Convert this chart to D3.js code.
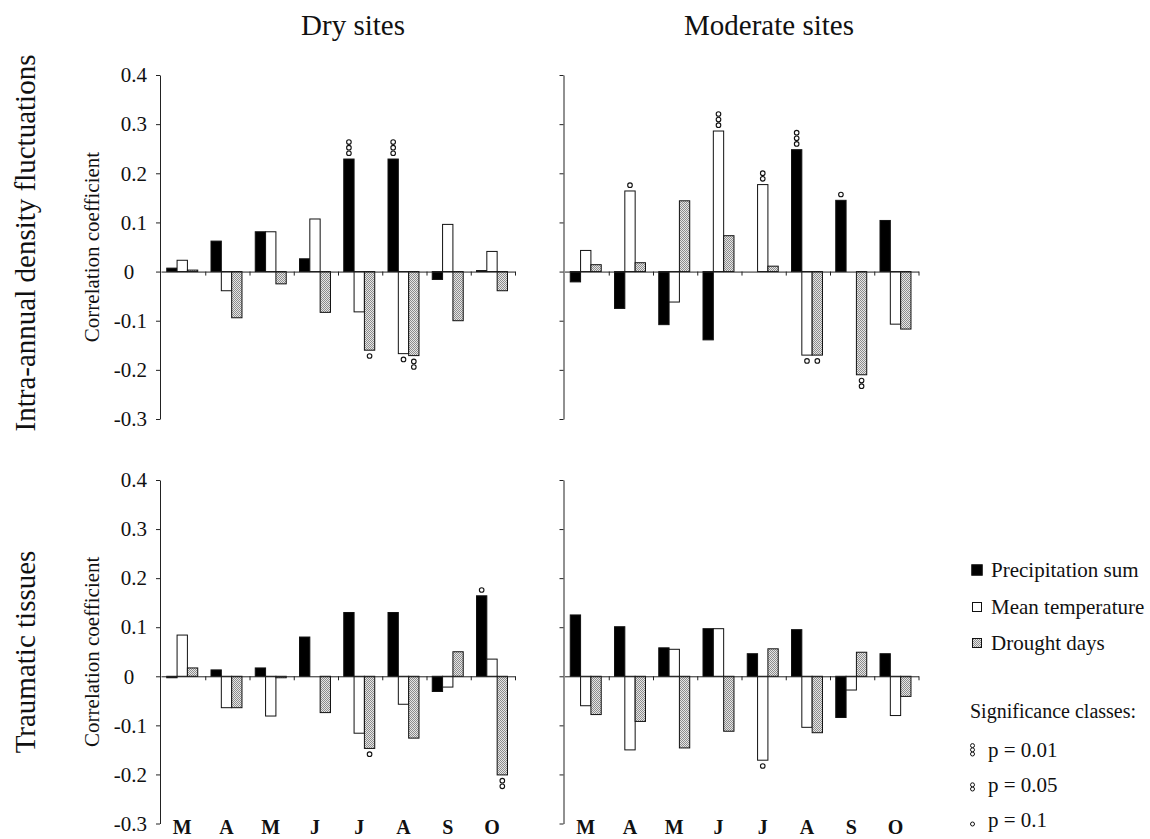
<!DOCTYPE html>
<html>
<head>
<meta charset="utf-8">
<script src="https://cdn.jsdelivr.net/npm/d3@7"></script>
<style>
body { margin: 0; background: #fff; }
text { font-family: "Liberation Serif", "Times New Roman", "DejaVu Serif", serif; }
</style>
</head>
<body>
<svg id="chart" width="1150" height="839"></svg>
<script>
// months and series
const monthKeys = ['Mar', 'Apr', 'May', 'Jun', 'Jul', 'Aug', 'Sep', 'Oct'];
const monthLabels = ['M', 'A', 'M', 'J', 'J', 'A', 'S', 'O'];
const seriesNames = ['Precipitation sum', 'Mean temperature', 'Drought days'];
const yTicks = [-0.3, -0.2, -0.1, 0, 0.1, 0.2, 0.3, 0.4];

// intra-annual density fluctuations, dry sites
const dryIadfPrec = [0.007, 0.062, 0.081, 0.026, 0.229, 0.229, -0.016, 0.002];
const dryIadfTemp = [0.023, -0.039, 0.081, 0.107, -0.082, -0.167, 0.096, 0.041];
const dryIadfDrought = [0.003, -0.094, -0.025, -0.083, -0.160, -0.171, -0.100, -0.039];
// intra-annual density fluctuations, moderate sites
const modIadfPrec = [-0.021, -0.075, -0.108, -0.139, 0, 0.248, 0.145, 0.104];
const modIadfTemp = [0.043, 0.164, -0.062, 0.286, 0.177, -0.170, 0, -0.107];
const modIadfDrought = [0.014, 0.018, 0.144, 0.073, 0.011, -0.170, -0.210, -0.117];
// traumatic tissues, dry sites
const dryTraumPrec = [-0.003, 0.013, 0.017, 0.080, 0.130, 0.130, -0.031, 0.164];
const dryTraumTemp = [0.084, -0.064, -0.081, 0, -0.116, -0.057, -0.022, 0.035];
const dryTraumDrought = [0.017, -0.064, -0.003, -0.074, -0.147, -0.126, 0.050, -0.201];
// traumatic tissues, moderate sites
const modTraumPrec = [0.125, 0.101, 0.058, 0.097, 0.046, 0.095, -0.084, 0.046];
const modTraumTemp = [-0.060, -0.150, 0.055, 0.097, -0.171, -0.104, -0.028, -0.080];
const modTraumDrought = [-0.078, -0.092, -0.146, -0.112, 0.056, -0.115, 0.049, -0.041];

// significance marks: month index, series index, number of circles
const dryIadfSig = [[4, 0, 3], [4, 2, 1], [5, 0, 3], [5, 1, 1], [5, 2, 2]];
const modIadfSig = [[1, 1, 1], [3, 1, 3], [4, 1, 2], [5, 0, 3], [5, 1, 1], [5, 2, 1], [6, 0, 1], [6, 2, 2]];
const dryTraumSig = [[4, 2, 1], [7, 0, 1], [7, 2, 2]];
const modTraumSig = [[4, 1, 1]];

const sigLabels = ['p = 0.01', 'p = 0.05', 'p = 0.1'];
const sigCounts = [3, 2, 1];

const svg = d3.select('#chart');
const fills = ['#000', '#fff', 'url(#stipple)'];

// stipple pattern for drought days
const pat = svg.append('defs').append('pattern')
    .attr('id', 'stipple')
    .attr('width', 2).attr('height', 2)
    .attr('patternUnits', 'userSpaceOnUse');
pat.append('rect').attr('width', 2).attr('height', 2).attr('fill', '#e6e6e6');
pat.append('rect').attr('width', 1).attr('height', 1).attr('fill', '#8c8c8c');
pat.append('rect').attr('x', 1).attr('y', 1).attr('width', 1).attr('height', 1).attr('fill', '#8c8c8c');

const colX = [160, 563.5];
const rowTop = [75, 480];
const rowBottom = [419, 823.5];
const plotW = 355;

const panels = [
    {col: 0, row: 0, values: [dryIadfPrec, dryIadfTemp, dryIadfDrought], sig: dryIadfSig},
    {col: 1, row: 0, values: [modIadfPrec, modIadfTemp, modIadfDrought], sig: modIadfSig},
    {col: 0, row: 1, values: [dryTraumPrec, dryTraumTemp, dryTraumDrought], sig: dryTraumSig},
    {col: 1, row: 1, values: [modTraumPrec, modTraumTemp, modTraumDrought], sig: modTraumSig}
];

// plain hyphen as minus sign, like the original
function tickFmt(d) {
    return d === 0 ? '0' : d.toFixed(1);
}

function drawPanel(p) {
    let g = svg.append('g');
    let x0 = d3.scaleBand()
        .domain(monthKeys)
        .range([colX[p.col] + 1, colX[p.col] + plotW]);
    let bw = x0.bandwidth();
    let x1 = d3.scaleBand()
        .domain(seriesNames)
        .range([bw * 0.13, bw * 0.83]);
    let y = d3.scaleLinear()
        .domain([-0.3, 0.4])
        .range([rowBottom[p.row], rowTop[p.row]]);

    // bars
    seriesNames.forEach(function (s, si) {
        g.selectAll(null)
            .data(p.values[si])
            .enter()
            .append('rect')
            .attr('x', function (d, i) { return x0(monthKeys[i]) + x1(s); })
            .attr('y', function (d) { return y(Math.max(0, d)); })
            .attr('width', x1.bandwidth())
            .attr('height', function (d) { return Math.abs(y(d) - y(0)); })
            .attr('fill', fills[si])
            .attr('stroke', '#111')
            .attr('stroke-width', 1);
    });

    // x axis on the zero line, ticks between months
    let xl = d3.scaleLinear().domain([0, 8]).range(x0.range());
    g.append('g')
        .attr('transform', `translate(0,${y(0)})`)
        .call(d3.axisBottom(xl).tickValues(d3.range(1, 9)).tickSize(4).tickSizeOuter(0).tickFormat(''));

    // y axis
    let ya = g.append('g')
        .attr('transform', `translate(${colX[p.col]},0)`)
        .call(d3.axisLeft(y).tickValues(yTicks).tickSize(4).tickSizeOuter(0).tickPadding(9)
            .tickFormat(p.col === 0 ? tickFmt : ''));
    ya.selectAll('text')
        .attr('font-family', '"Liberation Serif", serif')
        .attr('font-size', 21)
        .attr('fill', '#111');
    ya.selectAll('.tick text')
        .filter(function (d) { return d === 0; })
        .attr('text-anchor', 'middle')
        .attr('x', -31);
    g.selectAll('.domain, .tick line').attr('stroke', '#222');

    // significance circles
    g.selectAll(null)
        .data(p.sig)
        .enter()
        .each(function (s) {
            let v = p.values[s[1]][s[0]];
            let cx = x0(monthKeys[s[0]]) + x1(seriesNames[s[1]]) + x1.bandwidth() / 2;
            for (let k = 0; k < s[2]; k++) {
                let cy = v >= 0 ? y(v) - 5.8 - k * 5.6 : y(v) + 5.8 + k * 5.6;
                g.append('circle')
                    .attr('cx', cx).attr('cy', cy).attr('r', 2.3)
                    .attr('fill', '#fff').attr('stroke', '#111').attr('stroke-width', 1.1);
            }
        });

    // month labels under the lower panels
    if (p.row === 1) {
        g.selectAll(null)
            .data(monthLabels)
            .enter()
            .append('text')
            .attr('x', function (d, i) { return x0(monthKeys[i]) + bw * 0.48; })
            .attr('y', 834)
            .attr('text-anchor', 'middle')
            .attr('font-size', 20)
            .attr('font-weight', 'bold')
            .attr('fill', '#111')
            .text(function (d) { return d; });
    }

    // y axis title on the left panels
    if (p.col === 0) {
        let cy = (rowTop[p.row] + rowBottom[p.row]) / 2;
        svg.append('text')
            .attr('transform', `translate(99,${cy}) rotate(-90)`)
            .attr('text-anchor', 'middle')
            .attr('font-size', 21)
            .attr('fill', '#111')
            .text('Correlation coefficient');
    }
}

panels.forEach(drawPanel);

// column and row titles
svg.append('text').attr('x', 353).attr('y', 35).attr('text-anchor', 'middle')
    .attr('font-size', 29).attr('fill', '#111').text('Dry sites');
svg.append('text').attr('x', 769).attr('y', 35).attr('text-anchor', 'middle')
    .attr('font-size', 29).attr('fill', '#111').text('Moderate sites');
svg.append('text').attr('transform', 'translate(35,243) rotate(-90)').attr('text-anchor', 'middle')
    .attr('font-size', 29).attr('fill', '#111').text('Intra-annual density fluctuations');
svg.append('text').attr('transform', 'translate(35,652) rotate(-90)').attr('text-anchor', 'middle')
    .attr('font-size', 29).attr('fill', '#111').text('Traumatic tissues');

// legend
const legendY = [577, 614, 650];
const legendBox = [10.5, 9, 9];
const leg = svg.append('g');
seriesNames.forEach(function (s, i) {
    let sz = legendBox[i];
    leg.append('rect')
        .attr('x', 977 - sz / 2).attr('y', legendY[i] - 7 - sz / 2)
        .attr('width', sz).attr('height', sz)
        .attr('fill', fills[i]).attr('stroke', '#111').attr('stroke-width', 1);
    leg.append('text')
        .attr('x', 991).attr('y', legendY[i])
        .attr('font-size', 21).attr('fill', '#111')
        .text(s);
});
leg.append('text').attr('x', 970).attr('y', 718)
    .attr('font-size', 20).attr('fill', '#111').text('Significance classes:');
const sigY = [757, 792, 827];
sigLabels.forEach(function (s, i) {
    for (let k = 0; k < sigCounts[i]; k++) {
        leg.append('circle')
            .attr('cx', 972.5).attr('cy', sigY[i] - 3 - k * 4.2).attr('r', 2)
            .attr('fill', '#fff').attr('stroke', '#111').attr('stroke-width', 1);
    }
    leg.append('text')
        .attr('x', 988).attr('y', sigY[i])
        .attr('font-size', 21).attr('fill', '#111')
        .text(s);
});
</script>
</body>
</html>
